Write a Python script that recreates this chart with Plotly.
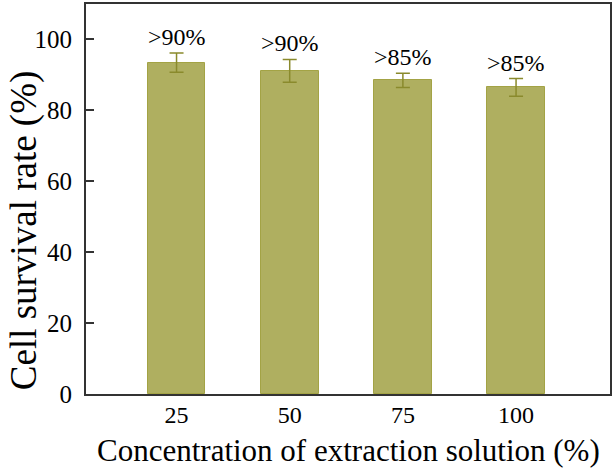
import plotly.graph_objects as go

categories = ["25", "50", "75", "100"]
values = [93.3, 91.0, 88.3, 86.3]
errors = [2.7, 3.2, 2.0, 2.5]
labels = [">90%", ">90%", ">85%", ">85%"]
y_ticks = [0, 20, 40, 60, 80, 100]
x_title = "Concentration of extraction solution (%)"
y_title = "Cell survival rate (%)"

font = "Liberation Serif, Times New Roman, serif"
x = list(range(len(categories)))

fig = go.Figure()
fig.add_trace(go.Bar(
    x=x, y=values, width=0.51,
    marker=dict(color="#afaf60", line=dict(color="#a3a345", width=1)),
    error_y=dict(type="data", array=errors, visible=True, color="#8a8a2c",
                 thickness=1.5, width=7),
    showlegend=False,
))
for xi, v, e, t in zip(x, values, errors, labels):
    fig.add_annotation(x=xi, y=v + e, text=t, showarrow=False, yanchor="bottom",
                       yshift=1, font=dict(family=font, size=24, color="black"))

# axis titles placed as annotations for precise positioning
fig.add_annotation(xref="paper", yref="paper", x=0.5, y=0, xanchor="center",
                   yanchor="middle", yshift=-56, xshift=0, showarrow=False,
                   text=x_title, font=dict(family=font, size=31, color="black"))
fig.add_annotation(xref="paper", yref="paper", x=0, y=0.42, xanchor="center",
                   yanchor="middle", xshift=-62, textangle=-90, showarrow=False,
                   text=y_title, font=dict(family=font, size=37, color="black"))

fig.update_layout(
    width=614, height=469,
    margin=dict(l=86, r=2, t=3, b=75),
    plot_bgcolor="white", paper_bgcolor="white",
    font=dict(family=font, color="black"),
    bargap=0,
)
fig.update_xaxes(
    range=[-0.8, 3.83], tickvals=x, ticktext=categories,
    showgrid=False, zeroline=False, showline=True, linecolor="#333", linewidth=2,
    mirror=True, ticks="", tickfont=dict(size=24), ticklabelstandoff=-2,
)
fig.update_yaxes(
    range=[0, 109.8], tickvals=y_ticks,
    showgrid=False, zeroline=False, showline=True, linecolor="#333", linewidth=2,
    mirror=True, ticks="inside", ticklen=8, tickwidth=1.5, tickcolor="#333",
    tickfont=dict(size=25), ticklabelstandoff=7,
)
fig.write_html("out.html")
